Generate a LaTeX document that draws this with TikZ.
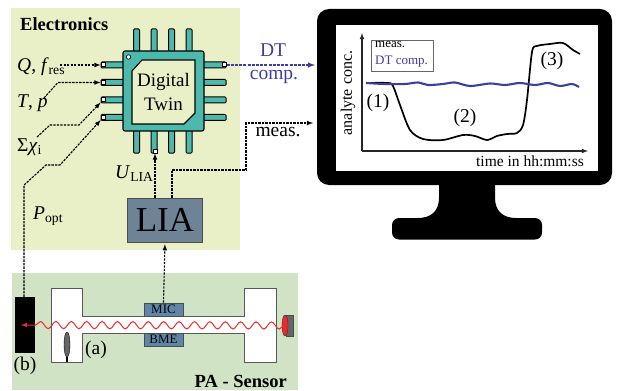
\documentclass[tikz,border=0pt]{standalone}
\usepackage{fontspec}
\setmainfont{Liberation Serif}
\usepackage{tikz}
\usetikzlibrary{arrows,calc,positioning,shapes.geometric,decorations.pathmorphing}
\definecolor{elecbg}{HTML}{E9EFC6}
\definecolor{sensbg}{HTML}{D0E3C4}
\definecolor{chipteal}{HTML}{4DB8AC}
\definecolor{liagray}{HTML}{6E8496}
\definecolor{micblue}{HTML}{5F86A6}
\definecolor{dtblue}{HTML}{3B3F9F}
\definecolor{beamred}{HTML}{F02A2A}
\tikzset{
sig/.style={line width=1.1pt,dash pattern=on 2.4pt off 1.1pt,>=latex},
pinbar/.style={draw=black,fill=chipteal,line width=1pt,rounded corners=1pt},
pad/.style={draw=black,fill=white,line width=1pt,minimum size=4pt,inner sep=0pt},
lbl/.style={inner sep=0pt,font=\fontsize{19.5}{21}\selectfont},
head/.style={inner sep=0pt,font=\fontsize{18.5}{20}\selectfont\bfseries},
sensbox/.style={draw=black!70,fill=micblue,line width=0.6pt,inner sep=0pt,minimum width=39pt,minimum height=13pt,font=\fontsize{13}{14}\selectfont},
}
\begin{document}
\begin{tikzpicture}[x=1pt,y=-1pt]
\useasboundingbox (0,0) rectangle (617,390);
% backgrounds
\fill[elecbg] (11,8) rectangle (240,250);
\fill[sensbg] (12,273) rectangle (298,390);
\node[head,anchor=west] (elec) at (20,24) {Electronics};
\node[head,anchor=east] (pasens) at (287,381) {PA - Sensor};
% chip
\foreach \y in {65,82.5,100,117.5} {
  \draw[pinbar] (101,\y-3) rectangle (128,\y+3);
  \draw[pinbar] (199,\y-3) rectangle (226,\y+3);
}
\foreach \x in {136.5,154,171.5,189} {
  \draw[pinbar] (\x-3,29) rectangle (\x+3,56);
  \draw[pinbar] (\x-3,126) rectangle (\x+3,153);
}
\draw[fill=chipteal,line width=1.1pt,rounded corners=2pt] (123,51) rectangle (204,131);
\draw[fill=elecbg,line width=1.1pt] (142,60) -- (195,60) -- (195,113) -- (184,124) -- (132,124) -- (132,71) -- cycle;
\draw[fill=white,line width=0.6pt] (128.5,57) circle (2.2);
\node[lbl,align=center,font=\fontsize{19}{24}\selectfont] (twin) at (163.5,92) {Digital\\Twin};
\node[pad] (padq) at (103,65) {};
\node[pad] (padt) at (103,82.5) {};
\node[pad] (padx) at (103,100) {};
\node[pad] (padp) at (103,117.5) {};
\node[pad] (padd) at (224,65) {};
\node[pad] (padu) at (155,151) {};
% labels
\node[lbl,anchor=west] (lq) at (17,67) {\textit{Q}, \textit{f}\textsubscript{res}};
\node[lbl,anchor=west] (lt) at (17,103) {\textit{T}, \textit{p}};
\node[lbl,anchor=west] (lx) at (17,147) {Σ\textit{χ}\textsubscript{i}};
\node[lbl,anchor=west] (lp) at (33,216) {\textit{P}\textsubscript{opt}};
\node[lbl,anchor=west] (lu) at (115,174) {\textit{U}\textsubscript{LIA}};
\node[lbl] (lmeas) at (278,132) {meas.};
\node[lbl,text=dtblue] (ldt) at (273,50) {DT};
\node[lbl,text=dtblue] (lcomp) at (274,77) {comp.};
% sensor
\draw[fill=white,draw=black!65,line width=1pt] (51,288) -- (82,288) -- (82,316) -- (244,316) -- (244,288) -- (276,288) -- (276,362) -- (244,362) -- (244,333) -- (82,333) -- (82,362) -- (51,362) -- cycle;
\node[sensbox] (mic) at (163.5,309.5) {MIC};
\node[sensbox] (bme) at (163.5,339.7) {BME};
\node[fill=black,minimum width=20pt,minimum height=56pt,inner sep=0pt] (det) at (25,325) {};
\node[draw=black!70,fill=black!60,minimum width=7pt,minimum height=21pt,inner sep=0pt] (ledbase) at (289.5,325.5) {};
\node[draw=black!80,fill=beamred,ellipse,minimum width=6pt,minimum height=21pt,inner sep=0pt] (led) at (285,325.5) {};
\node[draw=black,fill=black!60,ellipse,minimum width=6pt,minimum height=25pt,inner sep=0pt] (lens) at (67,344.5) {};
\coordinate (lensfoot) at (67,362);
\draw[line width=1.2pt] (lens.south) -- (lensfoot);
\coordinate (beamend) at (21,325);
\draw[beamred,line width=1pt,-latex,decorate,decoration={snake,amplitude=3.6pt,segment length=15.4pt,pre length=1pt,post length=7pt}] (led.center) -- (beamend);
\node[lbl] (la) at (96,350) {(a)};
\node[lbl] (lb) at (25,366) {(b)};
% LIA
\node[draw=black!70,fill=liagray,minimum width=75pt,minimum height=44pt,inner sep=0pt,font=\fontsize{35}{35}\selectfont] (lia) at (165,220) {LIA};
% connectors
\coordinate (qs) at (60,65);
\draw[sig,->] (qs) -- (padq);
\coordinate (tb1) at (44,98);
\coordinate (tb2) at (58,82.5);
\draw[sig,->] (tb1) -- (tb2) -- (padt);
\coordinate (xb1) at (37,137);
\coordinate (xb2) at (50,125);
\coordinate (xb3) at (79,125);
\draw[sig,->] (xb1) -- (xb2) -- (xb3) -- (padx);
\coordinate (pb1) at (24,185);
\coordinate (pb2) at (46,165);
\coordinate (pb3) at (60,165);
\draw[sig,->] (det.north -| pb1) -- (pb1) -- (pb2) -- (pb3) -- (padp);
\draw[sig,->] (lia.north -| padu) -- (padu);
\coordinate (mb1) at (172,170);
\coordinate (mb2) at (246,170);
\coordinate (mb3) at (246,123);
\coordinate (mb4) at (313,123);
\draw[sig,->] (lia.north -| mb1) -- (mb1) -- (mb2) -- (mb3) -- (mb4);
\draw[sig,->,shorten >=2pt] (mic.north) -- (lia.south);
\coordinate (dtend) at (315,65);
\draw[dtblue,line width=1.4pt,dash pattern=on 3pt off 1.2pt,->,>=latex] (padd) -- (dtend);
% monitor
\fill[rounded corners=12pt] (317,9) rectangle (612,185);
\fill[white] (336,25) rectangle (598,171);
\fill (439,180) -- (495,180) -- (495,198) .. controls (495,211) and (503,218) .. (516,218) -- (418,218) .. controls (431,218) and (439,211) .. (439,198) -- cycle;
\fill[rounded corners=7pt] (392,218) rectangle (542,239.5);
% plot
\coordinate (orig) at (362,151);
\coordinate (ytip) at (362,33);
\coordinate (xtip) at (588,151);
\draw[black!85,line width=1.1pt,-latex] (orig) -- (ytip);
\draw[black!85,line width=1.1pt,-latex] (orig) -- (xtip);
\node[draw=black!60,line width=0.9pt,minimum width=62pt,minimum height=31pt,inner sep=0pt] (legend) at (402,55.5) {};
\node[inner sep=0pt,anchor=west,font=\fontsize{13}{14}\selectfont] (lmeas2) at (375,45) {meas.};
\node[inner sep=0pt,anchor=west,text=dtblue,font=\fontsize{13}{14}\selectfont] (ldt2) at (375,62) {DT comp.};
\draw[line width=1.7pt] plot[smooth,tension=0.5] coordinates {(366,83) (388,83) (393,86) (400,105) (410,130) (423,139) (443,140) (463,135) (475,136) (487,140) (497,136) (507,134) (517,133) (523,125) (527,100) (532,52) (537,46) (550,44) (563,43) (573,50) (580,54)};
\draw[dtblue,line width=2.1pt] plot[smooth,tension=0.5] coordinates {(366,83) (385,84) (405,84) (418,82.5) (428,85) (443,84) (455,82.5) (470,86) (490,83.5) (505,85) (520,83) (535,85) (548,83) (560,86) (572,84) (579,87)};
\node[lbl] (l1) at (378,103) {(1)};
\node[lbl] (l2) at (465,118) {(2)};
\node[lbl] (l3) at (552,61) {(3)};
\node[inner sep=0pt,rotate=90,font=\fontsize{16}{17}\selectfont] (lana) at (348,93) {analyte conc.};
\node[inner sep=0pt,anchor=east,font=\fontsize{15.5}{17}\selectfont] (ltime) at (584,161) {time in hh:mm:ss};
\end{tikzpicture}
\end{document}
